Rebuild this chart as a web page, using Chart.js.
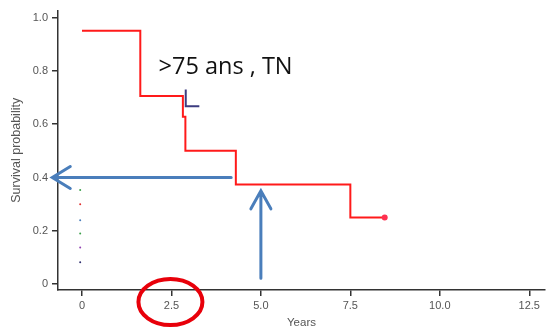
<!DOCTYPE html>
<html>
<head>
<meta charset="utf-8">
<script src="https://cdn.jsdelivr.net/npm/chart.js@4/dist/chart.umd.min.js"></script>
<style>
  html, body { margin: 0; padding: 0; background: #fff; }
  #wrap { width: 549px; height: 332px; }
</style>
</head>
<body>
<div id="wrap"><canvas id="km" width="549" height="332"></canvas></div>
<script>
/* données */
var redYears = [0, 1.63, 2.82, 2.89, 4.3, 7.5, 8.46];
var redSurv  = [0.95, 0.706, 0.628, 0.50, 0.374, 0.25, 0.25];

var navyYears = [2.9, 2.9, 3.28];
var navySurv  = [0.73, 0.667, 0.667];

// petits points de la légende résiduelle
var dotYears  = [-0.05, -0.05, -0.05, -0.05, -0.05, -0.05];
var dotSurv   = [0.353, 0.30, 0.24, 0.19, 0.137, 0.082];
var dotColors = ['#3aa04a', '#e03030', '#4a7ebb', '#3aa04a', '#9040b0', '#303070'];

var xTicks = [0, 2.5, 5.0, 7.5, 10.0, 12.5];
var yTicks = [0, 0.2, 0.4, 0.6, 0.8, 1.0];

var label = '>75 ans , TN';

function toPoints(xs, ys) {
  return xs.map(function (x, i) { return { x: x, y: ys[i] }; });
}

function fmt(v) {
  return v === 0 ? '0' : v.toFixed(1);
}

/* flèches, ellipse et texte ajoutés par dessus */
var annotations = {
  id: 'annotations',
  afterDatasetsDraw: function (chart) {
    var ctx = chart.ctx;
    var xs = chart.scales.x, ys = chart.scales.y;
    ctx.save();

    // flèche horizontale vers 0.4
    var y04 = ys.getPixelForValue(0.4);
    var hx1 = xs.getPixelForValue(4.17), hx0 = xs.getPixelForValue(-0.83);
    ctx.strokeStyle = '#4a7ebb';
    ctx.lineWidth = 3;
    ctx.lineCap = 'round';
    ctx.beginPath();
    ctx.moveTo(hx1, y04); ctx.lineTo(hx0, y04);
    ctx.moveTo(hx0 + 18, y04 - 11); ctx.lineTo(hx0, y04); ctx.lineTo(hx0 + 18, y04 + 11);
    ctx.stroke();

    // flèche verticale à 5 ans
    var x5 = xs.getPixelForValue(5.0);
    var vy0 = ys.getPixelForValue(0.022), vy1 = ys.getPixelForValue(0.35);
    ctx.beginPath();
    ctx.moveTo(x5, vy0); ctx.lineTo(x5, vy1);
    ctx.moveTo(x5 - 10, vy1 + 18); ctx.lineTo(x5, vy1); ctx.lineTo(x5 + 10, vy1 + 18);
    ctx.stroke();

    // cercle rouge autour de 2.5
    ctx.strokeStyle = '#e8000a';
    ctx.lineWidth = 4;
    ctx.beginPath();
    ctx.ellipse(xs.getPixelForValue(2.5) - 1, xs.top + 12, 32, 23, 0, 0, Math.PI * 2);
    ctx.stroke();

    // texte
    ctx.fillStyle = '#111';
    ctx.font = '23.5px "Open Sans"';
    ctx.textBaseline = 'alphabetic';
    ctx.fillText(label, xs.getPixelForValue(2.14), ys.getPixelForValue(0.79));
    ctx.restore();
  }
};

var ctx = document.getElementById('km').getContext('2d');
var myChart = new Chart(ctx, {
  type: 'line',
  data: {
    datasets: [
      {
        data: toPoints(redYears, redSurv),
        borderColor: '#ff1a1a',
        borderWidth: 2,
        stepped: true,
        pointRadius: function (c) { return c.dataIndex === redYears.length - 1 ? 3 : 0; },
        pointBackgroundColor: '#ff3050',
        pointBorderWidth: 0,
        fill: false
      },
      {
        data: toPoints(navyYears, navySurv),
        borderColor: '#3c3c80',
        borderWidth: 2,
        stepped: true,
        pointRadius: 0,
        fill: false
      },
      {
        type: 'scatter',
        data: toPoints(dotYears, dotSurv),
        pointRadius: 1,
        pointBorderWidth: 0,
        pointBackgroundColor: dotColors
      }
    ]
  },
  options: {
    responsive: false,
    animation: false,
    devicePixelRatio: 1,
    layout: { padding: { top: 8, right: 1, left: 0, bottom: 0 } },
    plugins: { legend: { display: false }, tooltip: { enabled: false } },
    scales: {
      x: {
        type: 'linear',
        min: -0.67,
        max: 12.94,
        afterBuildTicks: function (s) { s.ticks = xTicks.map(function (v) { return { value: v }; }); },
        afterFit: function (s) { s.height = 42; },
        grid: { drawOnChartArea: false, drawTicks: true, tickLength: 6, color: '#333', lineWidth: 1.5 },
        border: { display: true, color: '#333', width: 1.5 },
        ticks: {
          padding: 3,
          color: '#555',
          font: { family: 'Liberation Sans', size: 11 },
          maxRotation: 0,
          callback: function (v) { return fmt(v); }
        },
        title: {
          display: true,
          text: 'Years',
          color: '#555',
          font: { family: 'Liberation Sans', size: 11.5 },
          padding: { top: 0, bottom: 2 }
        }
      },
      y: {
        type: 'linear',
        min: -0.022,
        max: 1.026,
        afterBuildTicks: function (s) { s.ticks = yTicks.map(function (v) { return { value: v }; }); },
        afterFit: function (s) { s.width = 58; },
        grid: { drawOnChartArea: false, drawTicks: true, tickLength: 6, color: '#333', lineWidth: 1.5 },
        border: { display: true, color: '#333', width: 1.5 },
        ticks: {
          padding: 4,
          color: '#555',
          font: { family: 'Liberation Sans', size: 11 },
          callback: function (v) { return fmt(v); }
        },
        title: {
          display: true,
          text: 'Survival probability',
          color: '#555',
          font: { family: 'Liberation Sans', size: 12.5 },
          padding: { top: 9, bottom: 0 }
        }
      }
    }
  },
  plugins: [annotations]
});
</script>
</body>
</html>
